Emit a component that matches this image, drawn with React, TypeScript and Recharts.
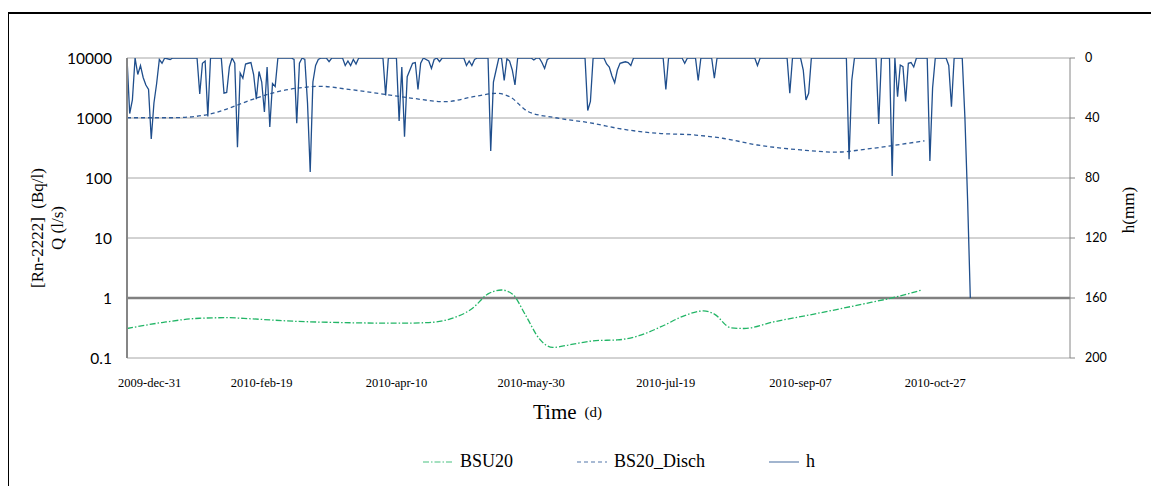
import { LineChart, Line, XAxis, YAxis, CartesianGrid, ReferenceLine, Legend } from "recharts";

// days counted from 2009-dec-31
const tickDays = [0, 50, 100, 150, 200, 250, 300];
const tickLabels = ["2009-dec-31", "2010-feb-19", "2010-apr-10", "2010-may-30", "2010-jul-19", "2010-sep-07", "2010-oct-27"];
const leftTicks = [0.1, 1, 10, 100, 1000, 10000];
const rightTicks = [0, 40, 80, 120, 160, 200];
const seriesOrder = ["BSU20", "BS20_Disch", "h"];

// [day, Bq/l]
const bsu20: [number, number][] = [
  [0, 0.31], [13, 0.39], [27, 0.46], [37, 0.47], [46, 0.45], [62, 0.41], [79, 0.39], [101, 0.38],
  [112, 0.39], [120, 0.45], [128, 0.66], [134, 1.17], [139, 1.36], [143, 1.17], [148, 0.51], [153, 0.21],
  [158, 0.15], [164, 0.165], [174, 0.195], [182, 0.2], [190, 0.235], [199, 0.345], [207, 0.51], [214, 0.61],
  [218, 0.54], [224, 0.32], [229, 0.31], [240, 0.4], [255, 0.54], [273, 0.79], [285, 1.03], [295, 1.36],
];

// [day, l/s]
const bs20Disch: [number, number][] = [
  [0, 1010], [17, 1010], [29, 1120], [36, 1360], [46, 2000], [56, 2750], [66, 3250], [72, 3370],
  [81, 3050], [95, 2500], [106, 2130], [118, 1870], [130, 2330], [137, 2580], [142, 2270], [149, 1270],
  [159, 1010], [172, 830], [184, 650], [197, 556], [211, 520], [221, 460], [234, 355], [250, 294],
  [263, 270], [275, 305], [287, 363], [296, 417],
];

// [day, mm]
const hRain: [number, number][] = [
  [0, 0], [1, 37], [2, 28], [3, 0], [4, 11], [5, 5], [6, 13], [7, 18], [8, 21], [9, 54], [10, 30], [11, 17],
  [12, 1], [13, 3.5], [14, 0], [16, 1], [17, 0],
  [26, 0], [27, 24], [28, 3.5], [29, 2], [30, 39], [31, 0],
  [35, 0], [36, 23.5], [37, 23], [38, 6], [39, 0], [40, 3.5], [41, 59.5], [42, 10], [43, 13.5], [44, 4],
  [45, 3.5], [46, 3], [47, 11], [48, 27.5], [49, 9], [50, 16], [51, 36], [52, 6], [53, 46], [54, 17],
  [55, 19], [56, 0],
  [61, 0], [62, 1], [63, 43.5], [64, 3.5], [65, 0], [66, 1], [67, 30], [68, 76], [69, 16], [70, 5], [71, 1], [72, 0],
  [74, 0], [75, 2.5], [76, 0],
  [80, 0], [81, 5], [82, 2], [83, 5], [84, 1], [85, 4], [86, 0],
  [95, 0], [96, 25], [97, 0],
  [100, 0], [101, 42], [102, 6], [103, 52.5], [104, 12.5], [105, 8], [106, 3.5], [107, 3], [108, 21],
  [109, 3.5], [110, 0], [112, 2], [113, 7], [114, 1], [115, 0], [116, 2.5], [117, 0],
  [125, 0], [126, 5], [127, 2], [128, 5], [129, 1], [130, 0],
  [134, 0], [135, 62], [136, 16], [137, 8], [138, 0], [139, 0], [140, 15], [141, 0.5], [142, 2], [143, 8],
  [144, 18], [145, 0],
  [150, 0], [151, 1.3], [152, 0], [153, 0], [154, 3], [155, 7], [156, 1], [157, 0],
  [170, 0], [171, 35], [172, 29], [173, 0],
  [177, 0], [178, 4], [179, 6], [180, 12], [181, 16.5], [182, 8], [183, 3.5], [184, 3], [185, 2.5], [186, 3],
  [187, 5], [188, 0],
  [199, 0], [200, 21], [201, 0],
  [206, 0], [207, 3.5], [208, 0],
  [211, 0], [212, 15], [213, 0],
  [217, 0], [218, 13.5], [219, 0],
  [233, 0], [234, 5], [235, 0],
  [245, 0], [246, 23.5], [247, 0],
  [250, 0], [251, 8], [252, 28], [253, 23.5], [254, 0],
  [267, 0], [268, 67.5], [269, 15], [270, 0],
  [278, 0], [279, 44], [280, 0],
  [283, 0], [284, 78.7], [285, 0], [286, 25.8], [287, 4.7], [288, 5.8], [289, 29], [290, 3.5], [291, 3],
  [292, 6], [293, 0],
  [297, 0], [298, 68.7], [299, 20], [300, 0],
  [304, 0], [305, 5], [306, 32.5], [307, 0],
  [310, 0], [311, 40], [312, 95], [313, 160],
];

const toRows = (pts: [number, number][]) => pts.map(([day, v]) => ({ day, v }));

const SERIF = "'Liberation Serif', 'DejaVu Serif', serif";
const SANS = "Lato, 'Open Sans', sans-serif";

function DateTick(props: any) {
  const { x, y, payload } = props;
  const i = tickDays.indexOf(payload.value);
  const first = i === 0;
  return (
    <text x={first ? x - 9 : x} y={y + 25} textAnchor={first ? "start" : "middle"} dominantBaseline="central"
      fontFamily={SERIF} fontSize={12.5} fill="#000">
      {tickLabels[i]}
    </text>
  );
}

function LegendBox(props: any) {
  const items = [...(props.payload || [])].sort(
    (a: any, b: any) => seriesOrder.indexOf(a.value) - seriesOrder.indexOf(b.value)
  );
  return (
    <div style={{ display: "flex", gap: 64, fontFamily: SERIF, fontSize: 18, color: "#000" }}>
      {items.map((it: any) => (
        <div key={it.value} style={{ display: "flex", alignItems: "center", gap: 7 }}>
          <svg width={30} height={10} style={{ opacity: 0.55 }}>
            <line x1={0} y1={5} x2={30} y2={5} stroke={it.color} strokeWidth={1.5}
              strokeDasharray={it.payload?.strokeDasharray} />
          </svg>
          <span>{it.value}</span>
        </div>
      ))}
    </div>
  );
}

export default function App() {
  return (
    <div style={{ position: "relative", width: 1151, height: 478 }}>
      <div style={{ position: "absolute", left: -1, top: 4, right: -10, bottom: -20,
        borderTop: "2px solid #000", borderLeft: "2px solid #000" }} />
      <LineChart width={1151} height={478} margin={{ top: 50, right: 19, bottom: 88, left: 0 }}>
        <CartesianGrid yAxisId="left" vertical={false} stroke="#a6a6a6" />
        <XAxis xAxisId={0} dataKey="day" type="number" domain={[0, 350]} ticks={tickDays} height={40}
          axisLine={false} tickLine={false} tickSize={0} tickMargin={0} tick={<DateTick />} interval={0}
          allowDataOverflow
          label={{
            content: (p: any) => {
              const vb = p.viewBox;
              return (
                <text x={vb.x + 406} y={vb.y + 54} dominantBaseline="central" fontFamily={SERIF} fill="#000">
                  <tspan fontSize={21}>Time</tspan>
                  <tspan fontSize={15} dx={8}>(d)</tspan>
                </text>
              );
            },
          }} />
        <YAxis yAxisId="left" orientation="left" scale="log" domain={[0.1, 10000]} ticks={leftTicks}
          allowDataOverflow width={119} axisLine={{ stroke: "#868686", strokeWidth: 2 }} tickLine={false}
          tickSize={0} tickMargin={15} tick={{ fontFamily: SANS, fontSize: 15.5, fill: "#000" }}
          label={{
            content: (p: any) => {
              const vb = p.viewBox;
              const cy = vb.y + vb.height / 2 + 20;
              return (
                <g fontFamily={SERIF} fontSize={17} fill="#000">
                  <text x={29} y={cy} textAnchor="middle" dominantBaseline="central" transform={`rotate(-90, 29, ${cy})`}>
                    {"[Rn-2222]\u00a0\u00a0(Bq/l)"}
                  </text>
                  <text x={49} y={cy} textAnchor="middle" dominantBaseline="central" transform={`rotate(-90, 49, ${cy})`}>
                    Q (l/s)
                  </text>
                </g>
              );
            },
          }} />
        <YAxis yAxisId="right" orientation="right" domain={[0, 200]} reversed ticks={rightTicks} width={70}
          allowDataOverflow axisLine={{ stroke: "#868686" }} tickLine={{ stroke: "#868686" }} tickSize={5}
          tickMargin={10} tick={{ fontFamily: SANS, fontSize: 12.5, fill: "#000" }}
          label={{
            content: (p: any) => {
              const vb = p.viewBox;
              const cx = vb.x + 58;
              const cy = vb.y + vb.height / 2 + 2;
              return (
                <text x={cx} y={cy} textAnchor="middle" dominantBaseline="central" fontFamily={SERIF}
                  fontSize={17} fill="#000" transform={`rotate(-90, ${cx}, ${cy})`}>
                  h(mm)
                </text>
              );
            },
          }} />
        <ReferenceLine yAxisId="left" y={1} stroke="#808080" strokeWidth={2.5} />
        <Legend verticalAlign="middle" content={<LegendBox />}
          wrapperStyle={{ top: 443, left: 415, width: 520, height: 20 }} />
        <Line yAxisId="left" data={toRows(bsu20)} dataKey="v" name="BSU20" type="monotone"
          stroke="#22b566" strokeWidth={1.3} strokeDasharray="6 2 1.5 2" dot={false} isAnimationActive={false} />
        <Line yAxisId="left" data={toRows(bs20Disch)} dataKey="v" name="BS20_Disch" type="monotone"
          stroke="#2f5b98" strokeWidth={1.3} strokeDasharray="4 3" dot={false} isAnimationActive={false} />
        <Line yAxisId="right" data={toRows(hRain)} dataKey="v" name="h" type="linear"
          stroke="#1f4e8c" strokeWidth={1.3} dot={false} isAnimationActive={false} />
      </LineChart>
    </div>
  );
}
